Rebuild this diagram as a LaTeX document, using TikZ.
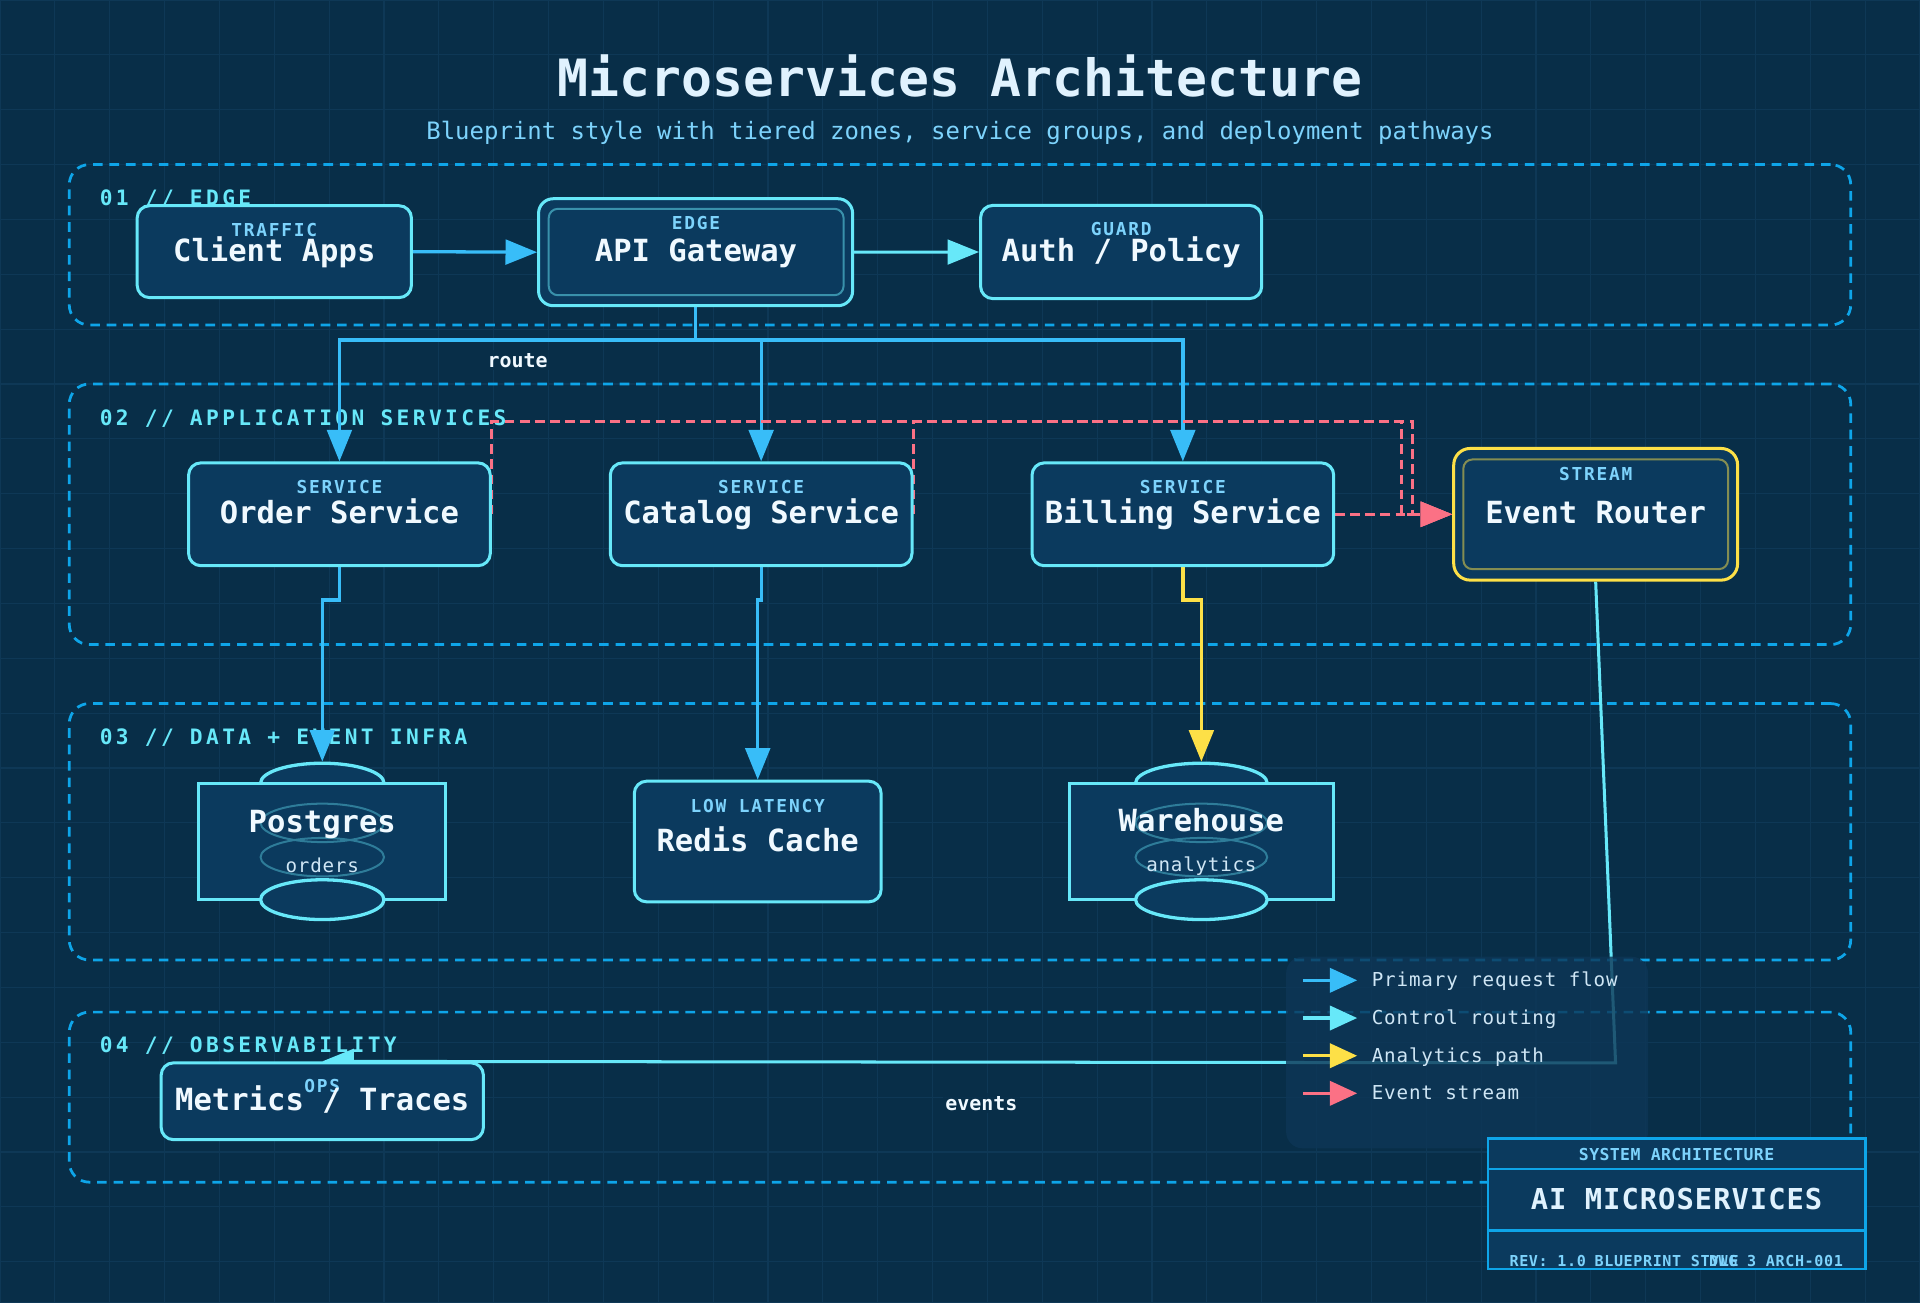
\documentclass[tikz,border=0pt]{standalone}
\usepackage{fontspec}
\setmainfont{DejaVu Sans Mono}
\usetikzlibrary{arrows.meta,shapes.geometric}
\definecolor{bgcol}{HTML}{082E48}
\definecolor{gridcol}{HTML}{0E3856}
\definecolor{zonecol}{HTML}{0EA5E9}
\definecolor{nodefill}{HTML}{0B3A5E}
\definecolor{cyanc}{HTML}{67E8F9}
\definecolor{bluec}{HTML}{38BDF8}
\definecolor{yellowc}{HTML}{FDE047}
\definecolor{redc}{HTML}{FB7185}
\definecolor{titlec}{HTML}{E0F2FE}
\definecolor{maintc}{HTML}{F0F9FF}
\definecolor{subc}{HTML}{7DD3FC}
\definecolor{legtext}{HTML}{CFE6F5}
\definecolor{legfill}{HTML}{0D3656}
\newcommand{\fsz}[2]{\fontsize{#1}{#2}\selectfont}
\pgfdeclarelayer{bglayer}
\pgfdeclarelayer{edgelayer}
\pgfdeclarelayer{front}
\pgfsetlayers{bglayer,edgelayer,main,front}
\tikzset{
  zone/.style={draw=zonecol, line width=1.5pt, dash pattern=on 5.25pt off 3.75pt, rounded corners=11pt, minimum width=974.25pt, inner sep=0pt},
  zonelabel/.style={anchor=base west, inner sep=0pt, text=cyanc, font=\bfseries\fsz{11.6}{14}\addfontfeatures{LetterSpace=16}},
  box/.style={draw=cyanc, fill=nodefill, line width=1.65pt, rounded corners=6.75pt, inner sep=0pt},
  innerbox/.style={draw=cyanc!50!nodefill, line width=1.1pt, rounded corners=5pt, inner sep=0pt},
  dbrect/.style={draw=cyanc, fill=nodefill, line width=1.65pt, inner sep=0pt},
  dbell/.style={ellipse, draw=cyanc, fill=nodefill, line width=1.8pt, inner sep=0pt},
  dbfaint/.style={ellipse, draw=cyanc!38!nodefill, line width=1.1pt, inner sep=0pt},
  smalllab/.style={anchor=base, inner sep=0pt, text=subc, font=\bfseries\fsz{9.75}{12}\addfontfeatures{LetterSpace=10}},
  mainlab/.style={anchor=base, inner sep=0pt, text=maintc, font=\bfseries\fsz{16.7}{20}},
  sublab/.style={anchor=base, inner sep=0pt, text=legtext, font=\fsz{10.5}{12}\addfontfeatures{LetterSpace=4}},
  edgelab/.style={anchor=base, inner sep=1.5pt, fill=bgcol, fill opacity=0.7, text opacity=1, text=maintc, font=\bfseries\fsz{10.9}{13}},
  tip/.style={-{Triangle[length=17.25pt,width=13.5pt]}},
  ltip/.style={-{Triangle[length=15pt,width=13.3pt]}},
  primary/.style={draw=bluec, line width=1.8pt, tip},
  control/.style={draw=cyanc, line width=1.65pt, tip},
  analytic/.style={draw=yellowc, line width=1.8pt, tip},
  eventl/.style={draw=redc, line width=1.8pt, dash pattern=on 5.25pt off 3pt, tip},
  legtxt/.style={anchor=base west, inner sep=0pt, text=legtext, font=\fsz{10.5}{12}\addfontfeatures{LetterSpace=4.5}},
  tbtxt/.style={inner sep=0pt, text=subc, font=\bfseries\fsz{8.25}{10}\addfontfeatures{LetterSpace=4}},
}
\begin{document}
\begin{tikzpicture}[x=0.75pt,y=-0.75pt]
\useasboundingbox (0,0) rectangle (1400,950);
\begin{pgfonlayer}{bglayer}
  \fill[bgcol] (0,0) rectangle (1400,950);
  \foreach \gx in {0,40,...,1400} \draw[gridcol, line width=0.6pt] (\gx,0) -- (\gx,950);
  \foreach \gy in {0,40,...,920} \draw[gridcol, line width=0.6pt] (0,\gy) -- (1400,\gy);
  \draw[gridcol, line width=1.2pt] (0,0) rectangle (1400,950);
  % title
  \node[anchor=base, inner sep=0pt, text=titlec, font=\bfseries\fsz{28.1}{32}] (title) at (700,70.5) {Microservices Architecture};
  \node[anchor=base, inner sep=0pt, text=subc, font=\fsz{13.1}{16}] (subtitle) at (700,102) {Blueprint style with tiered zones, service groups, and deployment pathways};
  % zones
  \node[zone, minimum height=87.75pt] (z1) at (700,178.5) {};
  \node[zone, minimum height=142.5pt] (z2) at (700,375) {};
  \node[zone, minimum height=140.25pt] (z3) at (700,606.5) {};
  \node[zone, minimum height=93pt] (z4) at (700,800) {};
  \node[zonelabel] (z1l) at (72.5,149.5) {01 // EDGE};
  \node[zonelabel] (z2l) at (72.5,310) {02 // APPLICATION SERVICES};
  \node[zonelabel] (z3l) at (72.5,542.5) {03 // DATA + EVENT INFRA};
  \node[zonelabel] (z4l) at (72.5,767.3) {04 // OBSERVABILITY};
\end{pgfonlayer}

% ---------- nodes ----------
\node[box, minimum width=150pt, minimum height=50.25pt] (client) at (200,183.5) {};
\node[smalllab] (clientS) at (200,172.6) {TRAFFIC};
\node[mainlab] (clientM) at (200,190.8) {Client Apps};

\node[box, minimum width=171.75pt, minimum height=58.5pt, rounded corners=8pt] (api) at (507.2,183.9) {};
\node[innerbox, minimum width=161.25pt, minimum height=47.25pt] (apiin) at (507.6,183.75) {};
\node[smalllab] (apiS) at (507.5,167.7) {EDGE};
\node[mainlab] (apiM) at (507.5,190.8) {API Gateway};

\node[box, minimum width=153.75pt, minimum height=51pt] (auth) at (817.5,183.75) {};
\node[smalllab] (authS) at (817.5,172) {GUARD};
\node[mainlab] (authM) at (817.5,190.8) {Auth / Policy};

\node[box, minimum width=165pt, minimum height=56.25pt] (order) at (247.5,375) {};
\node[smalllab] (orderS) at (247.5,359.7) {SERVICE};
\node[mainlab] (orderM) at (247.5,381.6) {Order Service};

\node[box, minimum width=165pt, minimum height=56.25pt] (catalog) at (555,375) {};
\node[smalllab] (catalogS) at (555,359.7) {SERVICE};
\node[mainlab] (catalogM) at (555,381.6) {Catalog Service};

\node[box, minimum width=165pt, minimum height=56.25pt] (billing) at (862.5,375) {};
\node[smalllab] (billingS) at (862.5,359.7) {SERVICE};
\node[mainlab] (billingM) at (862.5,381.6) {Billing Service};

\node[box, draw=yellowc, minimum width=155.25pt, minimum height=72pt, rounded corners=9pt] (router) at (1163.5,375) {};
\node[innerbox, draw=yellowc!50!nodefill, minimum width=144.75pt, minimum height=60pt] (routerin) at (1163.5,375) {};
\node[smalllab] (routerS) at (1163.5,350) {STREAM};
\node[mainlab] (routerM) at (1163.5,381.6) {Event Router};

% Postgres cylinder
\node[dbell, minimum width=67.5pt, minimum height=21.75pt] (pgtop) at (235,571) {};
\node[dbrect, minimum width=135pt, minimum height=63.75pt] (pg) at (235,613.5) {};
\node[dbfaint, minimum width=67.5pt, minimum height=21pt] (pgf1) at (235,600) {};
\node[dbfaint, minimum width=67.5pt, minimum height=21pt] (pgf2) at (235,625) {};
\node[dbell, minimum width=67.5pt, minimum height=21.75pt] (pgbot) at (235,656) {};
\node[mainlab] (pgM) at (235,607) {Postgres};
\node[sublab] (pgS) at (235,636) {orders};

\node[box, minimum width=135pt, minimum height=66pt] (redis) at (552.5,613.6) {};
\node[smalllab] (redisS) at (552.5,592.6) {LOW LATENCY};
\node[mainlab] (redisM) at (552.5,621) {Redis Cache};

% Warehouse cylinder
\node[dbell, minimum width=72pt, minimum height=21.75pt] (whtop) at (876,571) {};
\node[dbrect, minimum width=144.75pt, minimum height=63.75pt] (wh) at (876,613.5) {};
\node[dbfaint, minimum width=72pt, minimum height=21pt] (whf1) at (876,600) {};
\node[dbfaint, minimum width=72pt, minimum height=21pt] (whf2) at (876,625) {};
\node[dbell, minimum width=72pt, minimum height=21.75pt] (whbot) at (876,656) {};
\node[mainlab] (whM) at (876,606) {Warehouse};
\node[sublab] (whS) at (876,635.6) {analytics};

\node[box, minimum width=176.25pt, minimum height=42pt] (metrics) at (235,803) {};
\node[smalllab] (metricsS) at (235,796.8) {OPS};
\node[mainlab] (metricsM) at (235,809.4) {Metrics / Traces};

% ---------- edges ----------
\begin{pgfonlayer}{edgelayer}
  \coordinate (busy) at (0,248);
  \coordinate (jog) at (0,437.5);
  \coordinate (ebusa) at (1030,307.5);
  \coordinate (ebusb) at (1022,307.5);
  \coordinate (evbend) at (1178,775);
  \draw[primary] (client.east) -- (api.west);
  \draw[control] (api.east) -- (auth.west);
  \draw[primary] (api.south) -- (api.south |- busy) -| (order.north);
  \draw[primary] (api.south |- busy) -| (catalog.north);
  \draw[primary] (api.south |- busy) -| (billing.north);
  \draw[eventl] (order.east) |- (ebusa) -- (ebusa |- router.west) -- (router.west);
  \draw[eventl] (catalog.east) |- (ebusb) -- (ebusb |- router.west) -- (router.west);
  \draw[eventl] (billing.east) -- (router.west);
  \draw[primary] (order.south) -- (order.south |- jog) -| (pgtop.north);
  \draw[primary] (catalog.south) -- (catalog.south |- jog) -| (redis.north);
  \draw[analytic] (billing.south) -- (billing.south |- jog) -| (whtop.north);
  \draw[control] (router.south) -- (evbend) -- (metrics.north);
  \node[edgelab] (routeL) at (377.5,267.7) {route};
  \node[edgelab] (eventsL) at (715.6,809.4) {events};
\end{pgfonlayer}

% ---------- legend & title block ----------
\begin{pgfonlayer}{front}
  \node[fill=legfill, fill opacity=0.8, rounded corners=9pt, minimum width=197.9pt, minimum height=104.8pt, inner sep=0pt] (legend) at (1069.75,767.45) {};
  \coordinate (l1a) at (950,714.8); \coordinate (l1b) at (989.6,714.8);
  \coordinate (l2a) at (950,742.3); \coordinate (l2b) at (989.6,742.3);
  \coordinate (l3a) at (950,769.8); \coordinate (l3b) at (989.6,769.8);
  \coordinate (l4a) at (950,797.2); \coordinate (l4b) at (989.6,797.2);
  \draw[draw=bluec, line width=1.8pt, ltip] (l1a) -- (l1b);
  \draw[draw=cyanc, line width=1.8pt, ltip] (l2a) -- (l2b);
  \draw[draw=yellowc, line width=1.8pt, ltip] (l3a) -- (l3b);
  \draw[draw=redc, line width=1.8pt, ltip] (l4a) -- (l4b);
  \node[legtxt] (lt1) at (1000,719.5) {Primary request flow};
  \node[legtxt] (lt2) at (1000,747) {Control routing};
  \node[legtxt] (lt3) at (1000,774.5) {Analytics path};
  \node[legtxt] (lt4) at (1000,802) {Event stream};

  \node[draw=zonecol, fill=nodefill, line width=1.5pt, minimum width=206.25pt, minimum height=71.5pt, inner sep=0pt] (tb) at (1222.5,877.65) {};
  \coordinate (tbr1) at (0,852.4);
  \coordinate (tbr2) at (0,897.4);
  \draw[zonecol, line width=1.5pt] (tb.west |- tbr1) -- (tb.east |- tbr1);
  \draw[zonecol, line width=1.5pt] (tb.west |- tbr2) -- (tb.east |- tbr2);
  \node[anchor=base, inner sep=0pt, text=subc, font=\bfseries\fsz{9}{11}\addfontfeatures{LetterSpace=2.5}] (tb1) at (1222.5,846.3) {SYSTEM ARCHITECTURE};
  \node[anchor=base, inner sep=0pt, text=titlec, font=\bfseries\fsz{15.75}{18}\addfontfeatures{LetterSpace=3.5}] (tb2) at (1222.5,881.8) {AI MICROSERVICES};
  \node[tbtxt, anchor=base west] (tb3) at (1100.5,923.6) {REV: 1.0};
  \node[tbtxt, anchor=base west] (tb4) at (1162.5,923.6) {BLUEPRINT STYLE};
  \node[tbtxt, anchor=base east] (tb5) at (1344,923.6) {DWG 3 ARCH-001};
\end{pgfonlayer}
\end{tikzpicture}
\end{document}
